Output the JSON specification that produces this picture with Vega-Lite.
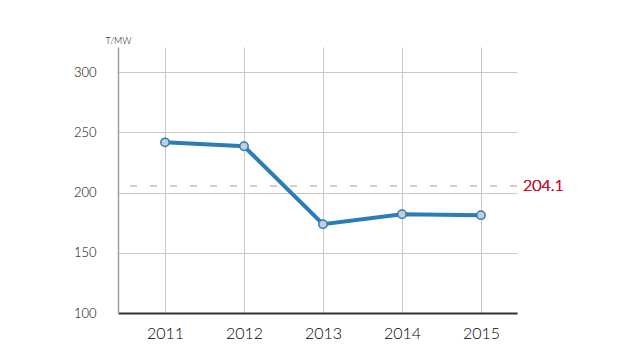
{
  "$schema": "https://vega.github.io/schema/vega-lite/v6.json",
  "width": 399,
  "height": 266,
  "autosize": "none",
  "padding": {"left": 118, "top": 47, "right": 123, "bottom": 47},
  "background": "white",
  "config": {
    "view": {"stroke": null},
    "font": "Lato",
    "axis": {"gridColor": "#c8c8c8", "gridWidth": 1, "ticks": false, "labelFont": "Lato", "titleFont": "Lato", "labelFontWeight": 300}
  },
  "data": {
    "values": [
      {"year": 2011, "value": 241.8},
      {"year": 2012, "value": 238.5},
      {"year": 2013, "value": 173.8},
      {"year": 2014, "value": 182.1},
      {"year": 2015, "value": 181.3}
    ]
  },
  "layer": [
    {
      "mark": {"type": "rule", "color": "#e3c6c8", "strokeWidth": 1, "strokeDash": [7, 13]},
      "encoding": {"y": {"datum": 205.5, "type": "quantitative"}}
    },
    {
      "mark": {"type": "text", "color": "#c8102e", "fontSize": 16, "fontWeight": 300, "align": "left", "baseline": "middle", "dx": 6, "font": "Lato"},
      "encoding": {
        "x": {"datum": 2015.456, "type": "quantitative"},
        "y": {"datum": 205.5, "type": "quantitative"},
        "text": {"value": "204.1"}
      }
    },
    {
      "mark": {"type": "line", "color": "#2b7db8", "strokeWidth": 4},
      "encoding": {
        "x": {
          "field": "year", "type": "quantitative",
          "scale": {"domain": [2010.405, 2015.456], "nice": false, "zero": false},
          "axis": {
            "values": [2011, 2012, 2013, 2014, 2015], "format": "d", "title": null,
            "grid": true, "domainColor": "#333333", "domainWidth": 2,
            "labelFontSize": 16, "labelColor": "#000000", "labelPadding": 12, "labelFlush": false
          }
        },
        "y": {
          "field": "value", "type": "quantitative",
          "scale": {"domain": [100, 321], "nice": false, "zero": false},
          "axis": {
            "values": [100, 150, 200, 250, 300], "grid": true,
            "domainColor": "#a0a0a0", "domainWidth": 1.5,
            "labelFontSize": 13, "labelColor": "#000000", "labelPadding": 22, "labelFlush": false,
            "title": "T/MW", "titleAngle": 0, "titleX": -13, "titleY": -4,
            "titleAlign": "left", "titleBaseline": "alphabetic", "titleFontSize": 9,
            "titleFontWeight": 300, "titleColor": "#000000"
          }
        }
      }
    },
    {
      "mark": {"type": "point", "filled": true, "fill": "#c5ced8", "stroke": "#2b7db8", "strokeWidth": 1.5, "size": 70, "opacity": 1},
      "encoding": {
        "x": {"field": "year", "type": "quantitative"},
        "y": {"field": "value", "type": "quantitative"}
      }
    }
  ]
}
